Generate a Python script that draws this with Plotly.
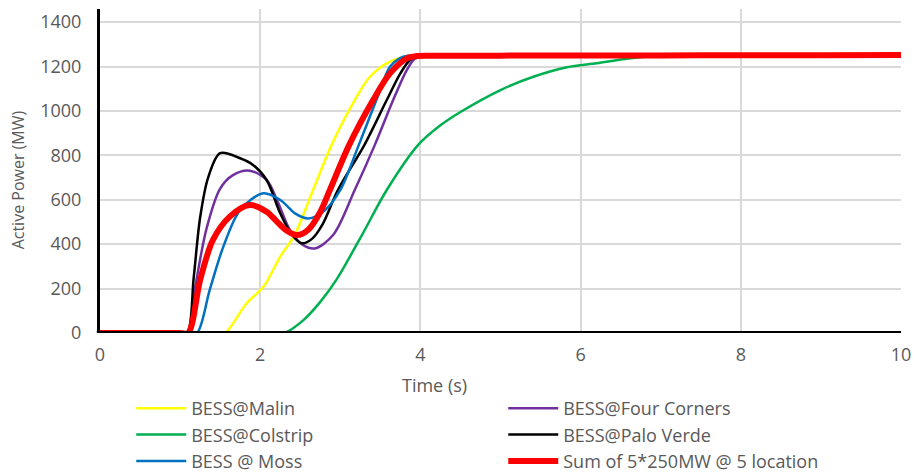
import plotly.graph_objects as go

# ---- data ----
malin_t = [0, 1.45, 1.56, 1.83, 2.04, 2.25, 2.43, 2.66, 2.89, 3.18, 3.37, 3.62, 3.85, 4.1, 5, 6, 7, 8, 9, 10]
malin_p = [0, 0, 0, 134, 208, 344, 441, 644, 846, 1049, 1154, 1222, 1245, 1250, 1250, 1250, 1250, 1250, 1250, 1250]

four_t = [0, 1.0, 1.09, 1.2, 1.33, 1.5, 1.66, 1.87, 2.08, 2.22, 2.37, 2.52, 2.68, 2.91, 3.18, 3.43, 3.66, 3.83, 3.93, 4.05, 5, 6, 7, 8, 9, 10]
four_p = [0, 0, 0, 230, 470, 650, 711, 731, 689, 590, 464, 400, 381, 441, 644, 846, 1049, 1184, 1235, 1250, 1250, 1250, 1250, 1250, 1250, 1250]

colstrip_t = [0, 2.2, 2.3, 2.54, 2.75, 2.95, 3.27, 3.58, 3.97, 4.25, 4.5, 5.0, 5.41, 5.83, 6.2, 6.6, 7.0, 8, 9, 10]
colstrip_p = [0, 0, 0, 58, 140, 239, 441, 644, 846, 935, 995, 1094, 1154, 1197, 1215, 1236, 1248, 1250, 1250, 1250]

palo_t = [0, 1.0, 1.09, 1.17, 1.25, 1.35, 1.5, 1.75, 1.91, 2.08, 2.25, 2.4, 2.52, 2.65, 2.78, 2.97, 3.3, 3.58, 3.75, 3.87, 3.98, 4.2, 5, 6, 7, 8, 9, 10]
palo_p = [0, 0, 0, 250, 520, 700, 810, 787, 757, 689, 539, 440, 404, 425, 490, 644, 846, 1049, 1169, 1229, 1247, 1250, 1250, 1250, 1250, 1250, 1250, 1250]

moss_t = [0, 1.1, 1.21, 1.37, 1.54, 1.75, 2.04, 2.25, 2.45, 2.6, 2.8, 3.0, 3.23, 3.45, 3.62, 3.74, 3.85, 4.1, 5, 6, 7, 8, 9, 10]
moss_p = [0, 0, 0, 194, 389, 554, 629, 599, 535, 516, 550, 644, 846, 1049, 1199, 1237, 1248, 1250, 1250, 1250, 1250, 1250, 1250, 1250]

sum_t = [0, 1.0, 1.1, 1.25, 1.41, 1.62, 1.87, 2.08, 2.2, 2.32, 2.46, 2.6, 2.75, 2.87, 3.11, 3.41, 3.62, 3.83, 3.96, 4.2, 5, 6, 7, 8, 9, 10]
sum_p = [0, 0, 0, 239, 419, 524, 576, 546, 505, 464, 441, 465, 545, 644, 846, 1049, 1169, 1237, 1247, 1248, 1249, 1250, 1250, 1251, 1251, 1252]

x_ticks = [0, 2, 4, 6, 8, 10]
y_ticks = [0, 200, 400, 600, 800, 1000, 1200, 1400]

series = [
    ("BESS@Malin", malin_t, malin_p, "#FFFF00", 2.5),
    ("BESS@Four Corners", four_t, four_p, "#7030A0", 2.5),
    ("BESS@Colstrip", colstrip_t, colstrip_p, "#00B050", 2.5),
    ("BESS@Palo Verde", palo_t, palo_p, "#000000", 2.5),
    ("BESS @ Moss", moss_t, moss_p, "#0070C0", 2.5),
    ("Sum of 5*250MW @ 5 location", sum_t, sum_p, "#FF0000", 6),
]

FONT = "Open Sans"
GRAY = "#595959"

fig = go.Figure()
for name, t, p, color, w in series:
    fig.add_trace(go.Scatter(
        x=t, y=p, name=name, mode="lines",
        line=dict(color=color, width=w, shape="spline", smoothing=0.9),
    ))

# horizontal axis line drawn centred on the value 0, above the traces (Excel style)
fig.add_shape(
    type="line", xref="paper", x0=-0.004, x1=1, yref="y", y0=0, y1=0,
    line=dict(color="black", width=4), layer="above",
)

fig.add_annotation(
    text="Time (s)", x=4.18, xref="x", y=-0.16, yref="paper",
    xanchor="center", yanchor="middle", showarrow=False,
    font=dict(family=FONT, size=18, color=GRAY),
)
fig.add_annotation(
    text="Active Power (MW)", x=-0.102, xref="paper", y=0.472, yref="paper",
    xanchor="center", yanchor="middle", showarrow=False, textangle=-90,
    font=dict(family=FONT, size=16, color=GRAY),
)

fig.update_layout(
    width=914, height=472,
    margin=dict(l=100, r=13, t=9, b=139, autoexpand=False),
    plot_bgcolor="white", paper_bgcolor="white",
    font=dict(family=FONT, size=18, color=GRAY),
    showlegend=True,
    legend=dict(
        orientation="h", x=0.039, xanchor="left", y=-0.176, yanchor="top",
        entrywidth=307, entrywidthmode="pixels",
        font=dict(family=FONT, size=18, color=GRAY),
        itemwidth=50,
    ),
    xaxis=dict(
        range=[0, 10], tickvals=x_ticks, showgrid=True, gridcolor="#d9d9d9", gridwidth=1.5,
        showline=False, zeroline=False,
        ticklabelstandoff=9, automargin=False,
    ),
    yaxis=dict(
        range=[0, 1459], tickvals=y_ticks, showgrid=True, gridcolor="#d9d9d9", gridwidth=1.5,
        showline=True, linecolor="black", linewidth=3, zeroline=False,
        ticklabelstandoff=12, automargin=False, layer="above traces",
    ),
)

fig.write_html(
    "out.html",
    config={"displayModeBar": False},
    post_script="document.body.style.margin='0';document.body.style.overflow='hidden';",
)
